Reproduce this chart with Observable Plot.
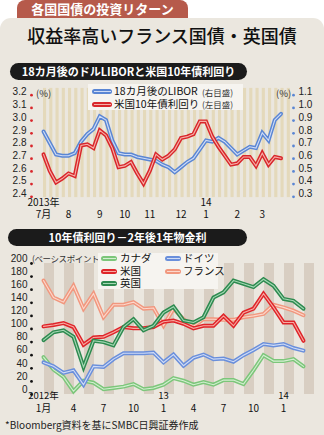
<!DOCTYPE html>
<html><head><meta charset="utf-8">
<script src="https://cdn.jsdelivr.net/npm/d3@7"></script>
<script src="https://cdn.jsdelivr.net/npm/@observablehq/plot@0.6"></script>
<style>
body{margin:0;background:#fff;font-family:"Noto Sans CJK JP",sans-serif;}
#page{position:relative;width:324px;height:435px;overflow:hidden;background:#fff;}
.abs{position:absolute;}
.pill{background:#1b1b1b;color:#fff;font-weight:bold;font-size:11px;border-radius:9px;text-align:center;line-height:17px;height:17px;}
.leg{background:#f6f4f0;}
.sw{position:absolute;height:5px;border-radius:2.5px;}
.sw i{position:absolute;left:1.5px;right:1.5px;top:2px;height:1.2px;}
.lt{position:absolute;font-size:10.5px;color:#111;white-space:nowrap;line-height:12px;}
.sm{position:absolute;font-size:8.5px;color:#333;white-space:nowrap;line-height:12px;}
</style></head>
<body>
<div id="page">
  <div class="abs" style="left:0;top:18px;width:324px;height:417px;background:#ebe7df;border-radius:11px 11px 0 0;"></div>
  <div class="abs" style="left:17px;top:0;width:171px;height:18px;background:#b65a4b;border-radius:8px 8px 0 0;color:#fff;font-weight:bold;font-size:13px;line-height:18px;text-align:center;">各国国債の投資リターン</div>
  <div class="abs" style="left:0;top:23px;width:324px;text-align:center;font-size:18px;line-height:24px;color:#111;font-weight:500;">収益率高いフランス国債・英国債</div>
  <div class="abs pill" style="left:10px;top:63px;width:237px;">18カ月後のドルLIBORと米国10年債利回り</div>
  <div class="abs" id="c1" style="left:0;top:82px;"></div>
  <div class="abs" style="left:36px;top:86px;font-size:9.5px;color:#333;">(%)</div>
  <div class="abs" style="left:276px;top:86px;font-size:9.5px;color:#333;">(%)</div>
  <div class="abs leg" style="left:88px;top:84px;width:155px;height:26px;">
    <div class="sw" style="left:4px;top:5px;width:20px;background:#5a86d4;"><i style="background:#cfdcf6"></i></div>
    <div class="lt" style="left:26px;top:1px;">18カ月後のLIBOR</div>
    <div class="sm" style="left:114px;top:1.5px;">(右目盛)</div>
    <div class="sw" style="left:4px;top:17.5px;width:20px;background:#d9262b;"><i style="background:#f6b0a8"></i></div>
    <div class="lt" style="left:26px;top:13.5px;">米国10年債利回り</div>
    <div class="sm" style="left:114px;top:14px;">(左目盛)</div>
  </div>
  <div class="abs pill" style="left:8px;top:229px;width:239px;">10年債利回り－2年後1年物金利</div>
  <div class="abs" id="c2" style="left:0;top:248px;"></div>
  <div class="abs" style="left:32px;top:252px;font-size:8.5px;color:#333;letter-spacing:-0.4px;">(ベーシスポイント)</div>
  <div class="abs leg" style="left:98px;top:253px;width:120px;height:36px;">
    <div class="sw" style="left:3px;top:3px;width:16px;background:#7cc67a;"><i style="background:#d3efd1"></i></div>
    <div class="lt" style="left:22px;top:-1px;">カナダ</div>
    <div class="sw" style="left:67px;top:3px;width:16px;background:#6a8fdb;"><i style="background:#d0dcf6"></i></div>
    <div class="lt" style="left:85px;top:-1px;">ドイツ</div>
    <div class="sw" style="left:3px;top:15.5px;width:16px;background:#df2429;"><i style="background:#f7aaa2"></i></div>
    <div class="lt" style="left:22px;top:11.5px;">米国</div>
    <div class="sw" style="left:67px;top:15.5px;width:16px;background:#f1977e;"><i style="background:#fcd8cc"></i></div>
    <div class="lt" style="left:85px;top:11.5px;">フランス</div>
    <div class="sw" style="left:3px;top:28px;width:16px;background:#2d8a4f;"><i style="background:#a6d8b5"></i></div>
    <div class="lt" style="left:22px;top:24px;">英国</div>
  </div>
  <div class="abs" style="left:5px;top:418px;font-size:10px;color:#222;line-height:14px;">*Bloomberg資料を基にSMBC日興証券作成</div>
</div>
<script>
// ---------- Chart 1 data (weekly, Jul 2013 - Mar 2014) ----------
const liborRight = [0.79,0.70,0.61,0.60,0.60,0.62,0.71,0.77,0.81,0.91,0.88,0.72,0.62,0.61,0.61,0.59,0.58,0.57,0.56,0.53,0.51,0.47,0.51,0.55,0.58,0.65,0.72,0.71,0.74,0.71,0.66,0.61,0.64,0.67,0.66,0.78,0.72,0.88,0.93];
const us10y = [2.71,2.58,2.49,2.52,2.56,2.54,2.78,2.79,2.76,2.90,2.86,2.76,2.61,2.62,2.65,2.56,2.48,2.58,2.71,2.67,2.70,2.75,2.84,2.85,2.87,2.97,2.97,2.85,2.77,2.70,2.63,2.64,2.69,2.69,2.62,2.72,2.63,2.69,2.68];
const leftTicks = [2.4,2.5,2.6,2.7,2.8,2.9,3.0,3.1,3.2];
const rightTicks = [0.3,0.4,0.5,0.6,0.7,0.8,0.9,1.0,1.1];
const axisOffset = 2.1; // right-axis value + 2.1 = left-axis value
const topTickIdx = [0,4,9,13,17,22,26,31,35];
const topTickMonth = ["7月","8","9","10","11","12","1","2","3"];
const topYearIdx = [0,26];
const topYearLabel = ["2013年","14"];

// ---------- Chart 2 data (monthly, Jan 2012 - Mar 2014), basis points ----------
const canada  = [57,38,27,5,21,18,8,10,12,16,8,10,15,25,21,15,19,15,22,22,16,37,60,51,51,54,43];
const germany = [49,43,33,37,15,43,42,54,63,63,63,64,49,61,44,56,61,54,55,50,60,68,77,75,77,71,67];
const usSpread= [104,106,109,103,76,87,88,95,103,101,101,103,111,113,108,101,105,105,120,105,125,131,154,133,110,110,82];
const france  = [174,148,141,166,131,154,118,137,137,141,131,132,105,131,115,104,115,115,114,114,118,120,123,137,133,128,121];
const uk      = [83,95,98,88,42,82,80,75,103,115,98,105,125,134,113,110,118,148,156,174,169,164,176,166,146,143,131];
const bottomTicks = [0,20,40,60,80,100,120,140,160,180,200];
const botTickIdx = [0,3,6,9,12,15,18,21,24];
const botTickMonth = ["1月","4","7","10","1","4","7","10","1"];
const botYearIdx = [0,12,24];
const botYearLabel = ["2012年","13","14"];

const numFont = "'Liberation Sans',sans-serif";
const dateFont = "'Liberation Sans Narrow','Noto Sans CJK JP',sans-serif";

function dbl(data, x, y, outer, inner) {
  return [
    Plot.line(data, {x, y, stroke: outer, strokeWidth: 4, strokeLinejoin: "miter", strokeMiterlimit: 3}),
    Plot.line(data, {x, y, stroke: inner, strokeWidth: 1.1, strokeLinejoin: "miter", strokeMiterlimit: 3})
  ];
}

// ---------- Chart 1 ----------
const libor = liborRight.map((v, i) => ({i, v: v + axisOffset}));
const us = us10y.map((v, i) => ({i, v}));
const stripes1 = d3.range(40);
const p1 = Plot.plot({
  width: 324, height: 143,
  marginLeft: 43, marginRight: 43.5, marginTop: 9.7, marginBottom: 31.7,
  style: {background: "transparent", overflow: "visible"},
  x: {domain: [0, 38], axis: null},
  y: {domain: [2.4, 3.2], axis: null},
  marks: [
    Plot.rect(stripes1, {x1: d => d, x2: d => d + 0.5, y1: 2.37, y2: 3.23, fill: "#e4d9bb"}),
    Plot.dot(leftTicks, {y: d => d, frameAnchor: "left", dx: -12, dy: 3, r: 1.4, fill: "#d9262b"}),
    Plot.text(leftTicks, {y: d => d, frameAnchor: "left", dx: -17, text: d => d.toFixed(1), textAnchor: "end", fontSize: 10, fontFamily: numFont, fill: "#222"}),
    Plot.dot(rightTicks, {y: d => d + axisOffset, frameAnchor: "right", dx: 12.5, dy: 3, r: 1.4, fill: "#5a86d4"}),
    Plot.text(rightTicks, {y: d => d + axisOffset, frameAnchor: "right", dx: 17.5, text: d => d.toFixed(1), textAnchor: "start", fontSize: 10, fontFamily: numFont, fill: "#222"}),
    ...dbl(libor, "i", "v", "#5a86d4", "#cfdcf6"),
    ...dbl(us, "i", "v", "#d9262b", "#f6b0a8"),
    Plot.text(topYearIdx, {x: d => d, frameAnchor: "bottom", dy: 12.3, text: (d, k) => topYearLabel[k], fontSize: 10, fontFamily: dateFont, fill: "#111"}),
    Plot.text(topTickIdx, {x: d => d, frameAnchor: "bottom", dy: 24.5, text: (d, k) => topTickMonth[k], fontSize: 10, fontFamily: dateFont, fill: "#111"})
  ]
});
document.getElementById("c1").appendChild(p1);

// ---------- Chart 2 ----------
const toRows = arr => arr.map((v, i) => ({i, v}));
const stripes2 = d3.range(0, 27, 2);
const p2 = Plot.plot({
  width: 324, height: 172,
  marginLeft: 43, marginRight: 21, marginTop: 15, marginBottom: 26,
  style: {background: "transparent", overflow: "visible"},
  x: {domain: [0, 26], axis: null},
  y: {domain: [0, 200], axis: null},
  marks: [
    Plot.rect(stripes2, {x1: d => d + 0.1, x2: d => d + 1.1, y1: 0, y2: 200, fill: "#d8cec2"}),
    Plot.dot(bottomTicks, {y: d => d, frameAnchor: "left", dx: -12, r: 1.4, fill: "#111"}),
    Plot.text(bottomTicks, {y: d => d, frameAnchor: "left", dx: -16, dy: -5, text: d => String(d), textAnchor: "end", fontSize: 10, fontFamily: numFont, fill: "#222"}),
    ...dbl(toRows(canada), "i", "v", "#7cc67a", "#d3efd1"),
    ...dbl(toRows(germany), "i", "v", "#6a8fdb", "#d0dcf6"),
    ...dbl(toRows(france), "i", "v", "#f1977e", "#fcd8cc"),
    ...dbl(toRows(usSpread), "i", "v", "#df2429", "#f7aaa2"),
    ...dbl(toRows(uk), "i", "v", "#2d8a4f", "#a6d8b5"),
    Plot.text(botYearIdx, {x: d => d, frameAnchor: "bottom", dy: 4.8, text: (d, k) => botYearLabel[k], fontSize: 9.5, fontFamily: dateFont, fill: "#111"}),
    Plot.text(botTickIdx, {x: d => d, frameAnchor: "bottom", dy: 17.6, text: (d, k) => botTickMonth[k], fontSize: 10, fontFamily: dateFont, fill: "#111"})
  ]
});
document.getElementById("c2").appendChild(p2);
</script>
</body></html>
